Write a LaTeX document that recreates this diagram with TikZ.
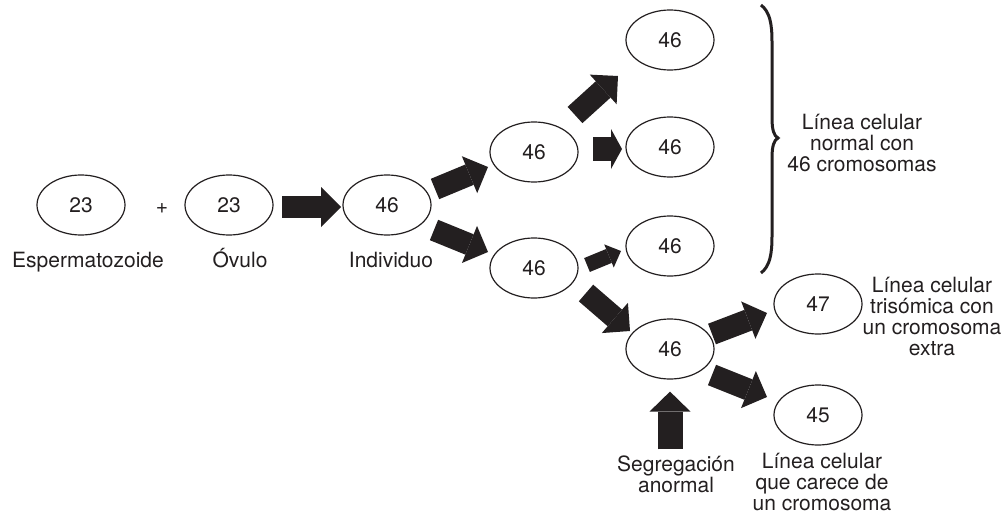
\documentclass[tikz,border=0pt]{standalone}
\usepackage{fontspec}
\setmainfont{TeX Gyre Heros}
\usetikzlibrary{shapes.geometric,arrows.meta,calc}
\definecolor{ink}{RGB}{35,31,32}
\begin{document}
\begin{tikzpicture}[x=1pt,y=-1pt,
  cell/.style={ellipse,draw=ink,line width=1.2pt,minimum width=88pt,minimum height=60pt,inner sep=0pt,text=ink,font=\fontsize{21}{21}\selectfont},
  lbl/.style={align=center,font=\fontsize{21}{21}\selectfont,inner sep=0pt,text=ink},
  blk/.style={line width=22pt,draw=ink,-{Triangle[width=40pt,length=20pt,line width=0pt]}},
]
\useasboundingbox (0,0) rectangle (1007,514);
\node[cell] (sp) at (81,205) {23};
\node[cell] (ov) at (229,205) {23};
\node[cell] (ind) at (387,205) {46};
\node[cell] (u) at (534,152) {46};
\node[cell] (l) at (534,268) {46};
\node[cell] (t1) at (670,40) {46};
\node[cell] (t2) at (670,147) {46};
\node[cell] (t3) at (670,246) {46};
\node[cell] (b) at (670,349) {46};
\node[cell] (tri) at (818,304) {47};
\node[cell] (mon) at (818,415) {45};
\node[lbl] (plus) at (162,209) {+};
\node[lbl,anchor=base] (tsp) at (88,267) {Espermatozoide};
\node[lbl,anchor=base] (tov) at (240,267) {Óvulo};
\node[lbl,anchor=base] (tind) at (391,267) {Individuo};
\node[lbl] (tnorm) at (862,143) {Línea celular\\normal con\\46 cromosomas};
\node[lbl] (ttri) at (932,316) {Línea celular\\trisómica con\\un cromosoma\\extra};
\node[lbl] (tcar) at (822,482) {Línea celular\\que carece de\\un cromosoma};
\node[lbl] (seg) at (676,474) {Segregación\\anormal};

\draw[blk] ($(ov)+(53,2)$) -- ($(ind)+(-46,2)$);
\draw[blk] ($(ind)+(48,-16)$) -- ($(u)+(-46,15)$);
\draw[blk] ($(ind)+(47,25)$) -- ($(l)+(-46,-16)$);
\draw[blk] ($(u)+(41,-37)$) -- ($(t1)+(-52,36)$);
\draw[blk,line width=24pt,-{Triangle[width=40pt,length=11pt,line width=0pt]}] ($(u)+(59,-3)$) -- ($(t2)+(-48,2)$);
\draw[blk,line width=15pt,-{Triangle[width=25pt,length=13pt,line width=0pt]}] ($(l)+(53,-3)$) -- ($(t3)+(-49,5)$);
\draw[blk] ($(l)+(52,25)$) -- ($(b)+(-40,-18)$);
\draw[blk] ($(b)+(42,-15)$) -- ($(tri)+(-51,9)$);
\draw[blk] ($(b)+(42,26)$) -- ($(mon)+(-51,-18)$);
\draw[blk,line width=25pt,-{Triangle[width=41pt,length=20pt,line width=0pt]}] ($(seg.north)+(-6,-6)$) -- ($(b.south)+(0,12)$);

\draw[line width=3pt,draw=ink] (761,5) .. controls (770,12) and (772,24) .. (772,42) -- (772,118) .. controls (772,130) and (774,136) .. (778,138) .. controls (774,140) and (772,146) .. (772,158) -- (772,236) .. controls (772,254) and (770,266) .. (761,273);
\end{tikzpicture}
\end{document}
